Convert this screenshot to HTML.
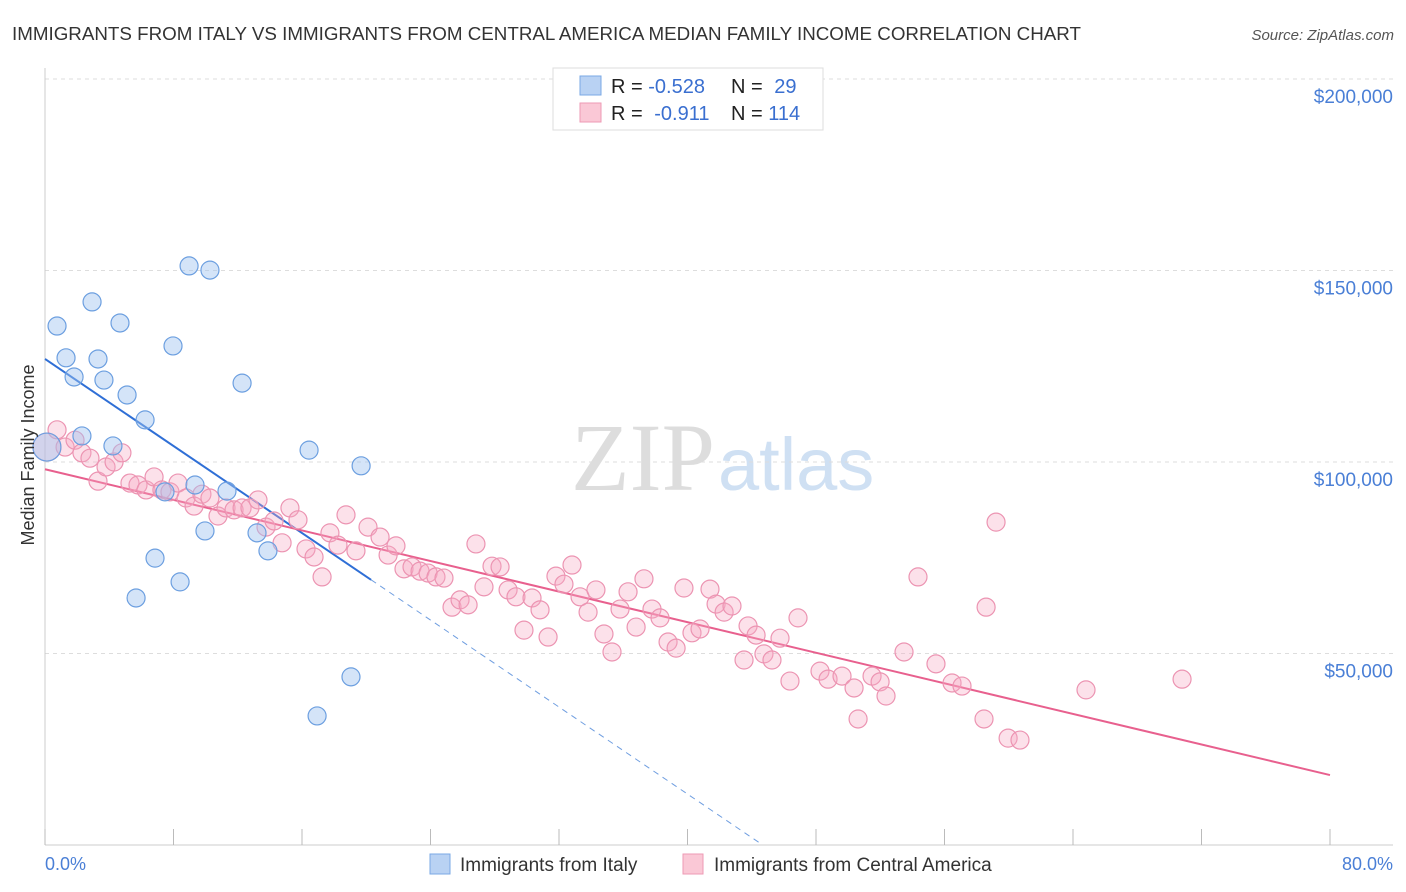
<!DOCTYPE html>
<html><head><meta charset="utf-8">
<style>
body{margin:0;background:#fff;font-family:"Liberation Sans",Arial,sans-serif;}
svg{display:block}
</style></head>
<body>
<svg id="chart" width="1406" height="892">
<text x="12" y="40" font-size="18" fill="#333" textLength="1069" lengthAdjust="spacingAndGlyphs">IMMIGRANTS FROM ITALY VS IMMIGRANTS FROM CENTRAL AMERICA MEDIAN FAMILY INCOME CORRELATION CHART</text>
<text x="1394" y="40" font-size="15" fill="#555" font-style="italic" text-anchor="end">Source: ZipAtlas.com</text>
<text x="715" y="490" font-size="96" fill="#ddd" text-anchor="end" font-family="Liberation Serif,serif">ZIP</text>
<text x="718" y="490" font-size="74" fill="#cfe0f3">atlas</text>
<g id="grid"></g>
<g id="axes"></g>
<g id="lines"></g>
<g id="pts"></g>
<text transform="translate(34,455) rotate(-90)" font-size="18" fill="#333" text-anchor="middle">Median Family Income</text>
<text x="45" y="870" font-size="18" fill="#4a7fd6">0.0%</text>
<text x="1393" y="870" font-size="18" fill="#4a7fd6" text-anchor="end">80.0%</text>
<g>
<rect x="553" y="68" width="270" height="62" fill="#fff" stroke="#ddd"/>
<rect x="580" y="76" width="21" height="19" fill="#b9d2f3" stroke="#7aa8e4"/>
<rect x="580" y="103" width="21" height="19" fill="#fac8d6" stroke="#ee9ab4"/>
<text x="611" y="93" font-size="20" fill="#222">R = <tspan fill="#3a6fd0">-0.528</tspan></text>
<text x="731" y="93" font-size="20" fill="#222">N = <tspan fill="#3a6fd0" dx="6">29</tspan></text>
<text x="611" y="120" font-size="20" fill="#222">R = <tspan fill="#3a6fd0" dx="6">-0.911</tspan></text>
<text x="731" y="120" font-size="20" fill="#222">N = <tspan fill="#3a6fd0">114</tspan></text>
</g>
<g>
<rect x="430" y="854" width="20" height="20" fill="#b9d2f3" stroke="#7aa8e4"/>
<text x="460" y="871" font-size="19" fill="#333">Immigrants from Italy</text>
<rect x="683" y="854" width="20" height="20" fill="#fac8d6" stroke="#ee9ab4"/>
<text x="714" y="871" font-size="19" fill="#333">Immigrants from Central America</text>
</g>
</svg>
<script>
const yTicks=[50000,100000,150000,200000];
const yTickLabels=["$50,000","$100,000","$150,000","$200,000"];
const xTicks=[0,8,16,24,32,40,48,56,64,72,80];
const italyX=[0.12,0.75,1.31,1.81,2.30,2.93,3.30,3.67,4.23,4.67,5.11,5.67,6.23,6.85,7.47,7.97,8.41,8.97,9.34,9.96,10.27,11.33,12.27,13.20,13.88,16.44,16.94,19.05,19.68];
const italyY=[103.9,135.5,127.2,122.2,106.8,141.8,126.9,121.4,104.2,136.3,117.5,64.5,111.0,74.9,92.2,130.3,68.7,151.2,94.0,82.0,150.1,92.4,120.6,81.5,76.8,103.1,33.7,43.9,99.0];
const camX=[0.12,0.75,1.25,1.87,2.30,2.80,3.30,3.80,4.30,4.79,5.29,5.79,6.29,6.79,7.28,7.78,8.28,8.78,9.28,9.77,10.27,10.77,11.27,11.77,12.27,12.76,13.26,13.76,14.26,14.76,15.25,15.75,16.25,16.75,17.25,17.74,18.24,18.74,19.36,20.11,20.86,21.36,21.85,22.35,22.85,23.35,23.85,24.34,24.84,25.34,25.84,26.34,26.83,27.33,27.83,28.33,28.83,29.32,29.82,30.32,30.82,31.32,31.81,32.31,32.81,33.31,33.81,34.30,34.80,35.30,35.80,36.30,36.80,37.29,37.79,38.29,38.79,39.29,39.78,40.28,40.78,41.40,41.78,42.28,42.77,43.52,43.77,44.27,44.76,45.26,45.76,46.38,46.88,48.25,48.75,49.62,50.37,50.62,51.49,51.99,52.36,53.48,54.35,55.47,56.47,57.09,58.46,58.59,59.21,59.96,60.70,64.81,70.79];
const camY=[103.9,108.4,103.9,105.7,102.4,101.0,95.0,98.7,100.0,102.4,94.5,94.0,92.7,96.1,92.7,92.2,94.5,90.6,88.5,91.6,90.6,85.9,88.0,87.5,88.0,88.0,90.1,83.0,84.6,78.9,88.0,84.9,77.3,75.2,70.0,81.5,78.3,86.2,76.8,83.0,80.4,75.7,78.1,72.1,72.6,71.5,71.0,70.0,69.7,62.1,64.0,62.7,78.6,67.4,72.8,72.6,66.6,64.8,56.1,64.5,61.4,54.3,70.2,68.1,73.1,64.8,60.8,66.6,55.1,50.4,61.6,66.1,56.9,69.5,61.6,59.3,53.0,51.4,67.1,55.4,56.4,66.8,62.9,60.8,62.4,48.3,57.2,54.8,49.9,48.3,54.0,42.8,59.3,45.4,43.3,44.1,41.0,32.9,44.1,42.6,38.9,50.4,70.0,47.3,42.3,41.5,32.9,62.1,84.3,27.9,27.4,40.5,43.3];
const italyTrend=[126.9,-2.84];
const camTrend=[98.1,-0.998];

const NS="http://www.w3.org/2000/svg";
const X=v=>45+v/80*1285;
const Y=k=>845-k/50*191.5;
function mk(tag,attrs,parent){const e=document.createElementNS(NS,tag);for(const k in attrs)e.setAttribute(k,attrs[k]);document.getElementById(parent).appendChild(e);return e;}
yTicks.forEach((t,i)=>{
 const y=Y(t/1000);
 const l=mk('line',{x1:45,x2:1393,y1:y,y2:y,stroke:'#ddd','stroke-dasharray':'4,4'},'grid');
 
 
 const tx=mk('text',{x:1393,y:y+24,'font-size':19,fill:'#4a7fd6','text-anchor':'end'},'grid');
 tx.textContent=yTickLabels[i];
 
 
});
const ax=mk('line',{x1:45,x2:45,y1:68,y2:845,stroke:'#ccc'},'axes');


const bx=mk('line',{x1:45,x2:1393,y1:845,y2:845,stroke:'#ccc'},'axes');


xTicks.forEach(t=>{
 const tk=mk('line',{x1:X(t),x2:X(t),y1:829,y2:845,stroke:'#bbb'},'axes');
 
 
});
const bEnd=20.3, bZero=-italyTrend[0]/italyTrend[1];
const bl=mk('line',{x1:X(0),y1:Y(italyTrend[0]),x2:X(bEnd),y2:Y(italyTrend[0]+italyTrend[1]*bEnd),stroke:'#2f6fd6','stroke-width':2},'lines');


const bd=mk('line',{x1:X(bEnd),y1:Y(italyTrend[0]+italyTrend[1]*bEnd),x2:X(bZero),y2:Y(0),stroke:'#6f9ee0','stroke-width':1,'stroke-dasharray':'6,5'},'lines');


const pl=mk('line',{x1:X(0),y1:Y(camTrend[0]),x2:X(80),y2:Y(camTrend[0]+camTrend[1]*80),stroke:'#e8608e','stroke-width':2},'lines');


camX.forEach((x,i)=>{
 const c=mk('circle',{cx:X(x),cy:Y(camY[i]),r:i===0?14:9,fill:'rgba(245,170,195,0.35)',stroke:'#ec94b2','stroke-width':1.2},'pts');
 
 
});
italyX.forEach((x,i)=>{
 const c=mk('circle',{cx:X(x),cy:Y(italyY[i]),r:i===0?14:9,fill:'rgba(160,195,240,0.45)',stroke:'#6c9fe0','stroke-width':1.2},'pts');
 
 
});
</script>
</body></html>
